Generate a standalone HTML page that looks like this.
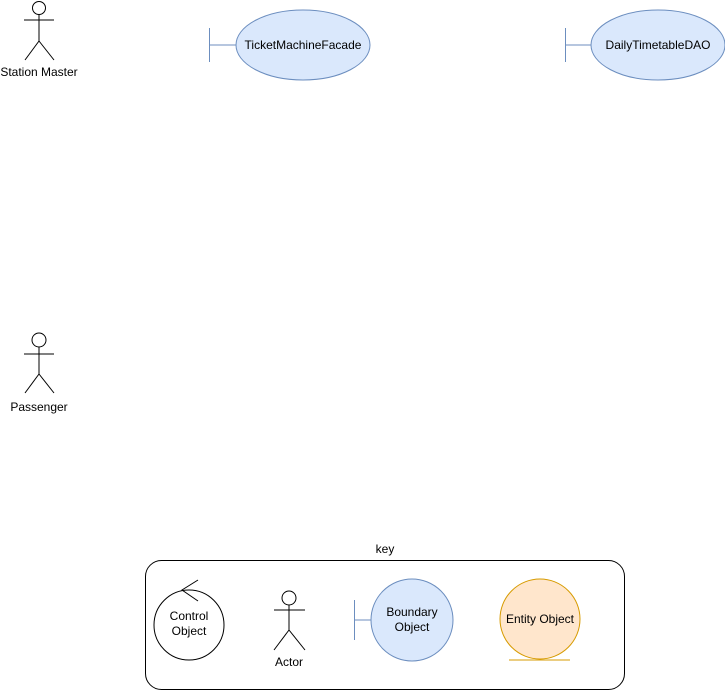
<!DOCTYPE html>
<html><head><style>html,body{margin:0;padding:0;background:#fff;}svg{display:block;font-family:"Liberation Sans",Arial,sans-serif;}</style></head>
<body>
<svg width="725" height="691" viewBox="0 0 725 691" xmlns="http://www.w3.org/2000/svg">
<g fill="none" stroke="#000" stroke-width="1">
<circle cx="39" cy="8" r="6.5" fill="#fff"/>
<line x1="39" y1="14.5" x2="39" y2="41"/>
<line x1="24" y1="20" x2="54" y2="20"/>
<line x1="39" y1="41" x2="25" y2="60"/>
<line x1="39" y1="41" x2="54" y2="60"/>
<circle cx="39" cy="340" r="7" fill="#fff"/>
<line x1="39" y1="347" x2="39" y2="374"/>
<line x1="24" y1="354" x2="54" y2="354"/>
<line x1="39" y1="374" x2="25" y2="393"/>
<line x1="39" y1="374" x2="54" y2="393"/>
</g>
<g font-size="12" fill="#000" text-anchor="middle">
<text x="39" y="76">Station Master</text>
<text x="39" y="411">Passenger</text>
</g>
<g stroke="#6c8ebf" fill="#dae8fc">
<line x1="209.5" y1="28" x2="209.5" y2="62"/>
<line x1="209.5" y1="45" x2="236" y2="45"/>
<ellipse cx="303" cy="45" rx="67" ry="35"/>
<line x1="565.5" y1="28" x2="565.5" y2="62"/>
<line x1="565.5" y1="45" x2="591" y2="45"/>
<ellipse cx="658" cy="45" rx="67" ry="35"/>
</g>
<g font-size="12" fill="#000" text-anchor="middle">
<text x="303" y="49">TicketMachineFacade</text>
<text x="658" y="49">DailyTimetableDAO</text>
<text x="385" y="553">key</text>
</g>
<rect x="145.5" y="560.5" width="479" height="129" rx="16" fill="none" stroke="#000"/>
<g fill="none" stroke="#000">
<circle cx="189" cy="625" r="35" fill="#fff"/>
<polyline points="198,580 182,590 198,601"/>
<circle cx="289" cy="598" r="7" fill="#fff"/>
<line x1="289" y1="605" x2="289" y2="630"/>
<line x1="274" y1="610" x2="305" y2="610"/>
<line x1="289" y1="630" x2="274" y2="650"/>
<line x1="289" y1="630" x2="305" y2="650"/>
</g>
<g stroke="#6c8ebf">
<line x1="354.5" y1="600" x2="354.5" y2="640"/>
<line x1="354.5" y1="620" x2="371" y2="620"/>
<circle cx="412" cy="620" r="41" fill="#dae8fc"/>
</g>
<g stroke="#d79b00">
<circle cx="540" cy="619" r="40" fill="#ffe6cc"/>
<line x1="509" y1="660" x2="570" y2="660"/>
</g>
<g font-size="12" fill="#000" text-anchor="middle">
<text x="189" y="620">Control</text>
<text x="189" y="635">Object</text>
<text x="289" y="666">Actor</text>
<text x="412" y="616">Boundary</text>
<text x="412" y="631">Object</text>
<text x="540" y="623">Entity Object</text>
</g>
</svg>
</body></html>
